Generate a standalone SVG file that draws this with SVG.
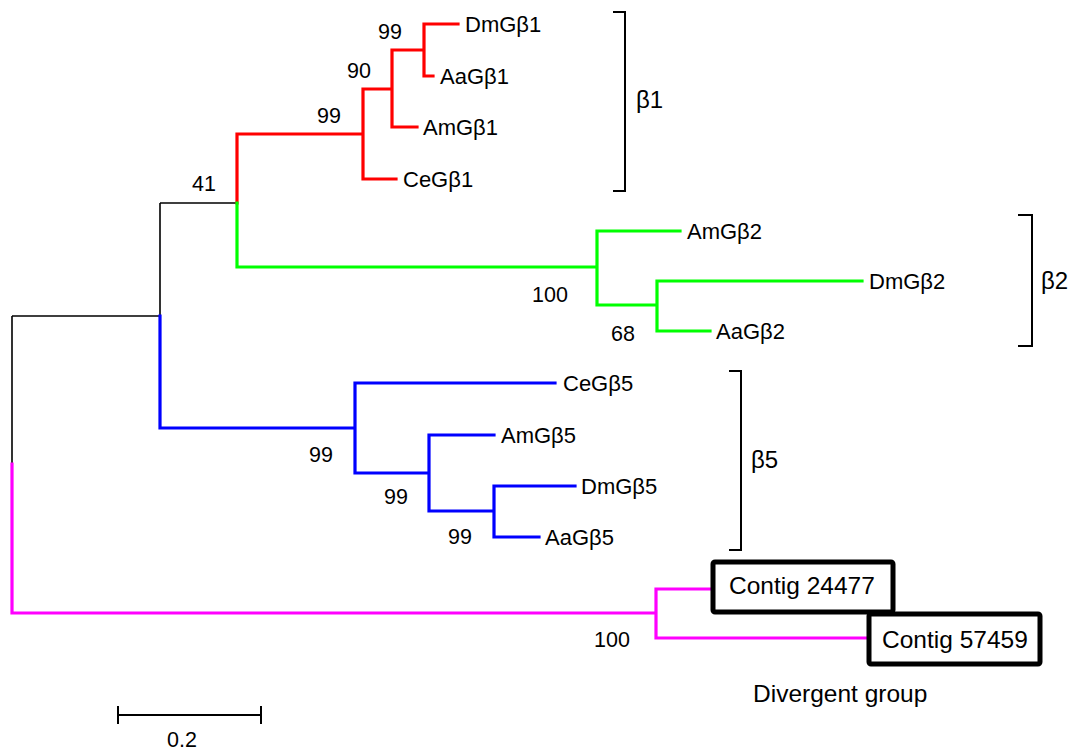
<svg xmlns="http://www.w3.org/2000/svg" width="1070" height="751" viewBox="0 0 1070 751">
<style>
.br{fill:none;stroke-width:3.2;stroke-linecap:square;stroke-linejoin:miter}
.red{stroke:#ff0000}.grn{stroke:#00ff00}.blu{stroke:#0000ff}.mag{stroke:#ff00ff}
.blk{fill:none;stroke:#000;stroke-width:1.6}
.brk{fill:none;stroke:#000;stroke-width:2}
.lab{font-family:"Liberation Sans",Arial,sans-serif;font-size:22px;fill:#000}
.grp{font-family:"Liberation Sans",Arial,sans-serif;font-size:24px;fill:#000}
.num{font-family:"Liberation Sans",Arial,sans-serif;font-size:21.5px;fill:#000}
.box{fill:#fff;stroke:#000;stroke-width:5}
.big{font-family:"Liberation Sans",Arial,sans-serif;font-size:24.5px;fill:#000}
</style>
<rect width="1070" height="751" fill="#fff"/>
<g id="connectors">
<path class="blk" d="M160,203 H237 M160,203 V316 M12,316 H160 M12,316 V464"/>
<path class="br red" d="M237,203 V134 H363 M363,89 V179 M363,89 H392 M363,179 H396 M392,50 V127 M392,50 H424 M392,127 H417 M424,24 V76 M424,24 H458 M424,76 H433"/>
<path class="br grn" d="M237,203 V267 H597 M597,231 V305 M597,231 H680 M597,305 H657 M657,281 V331 M657,281 H862 M657,331 H710"/>
<path class="br blu" d="M160,316 V428 H355 M355,383 V473 M355,383 H555 M355,473 H429 M429,435 V511 M429,435 H494 M429,511 H494 M494,486 V537 M494,486 H575 M494,537 H539"/>
<path class="br mag" d="M12,464 V613 H656 M656,589 V638 M656,589 H713 M656,638 H866"/>
</g>
<g id="n-DmGb1"><text class="lab" x="465" y="32">DmGβ1</text></g>
<g id="n-AaGb1"><text class="lab" x="440" y="84">AaGβ1</text></g>
<g id="n-AmGb1"><text class="lab" x="423" y="135">AmGβ1</text></g>
<g id="n-CeGb1"><text class="lab" x="403" y="187">CeGβ1</text></g>
<g id="n-AmGb2"><text class="lab" x="687" y="239">AmGβ2</text></g>
<g id="n-DmGb2"><text class="lab" x="869" y="289">DmGβ2</text></g>
<g id="n-AaGb2"><text class="lab" x="716" y="339">AaGβ2</text></g>
<g id="n-CeGb5"><text class="lab" x="563" y="391">CeGβ5</text></g>
<g id="n-AmGb5"><text class="lab" x="501" y="443">AmGβ5</text></g>
<g id="n-DmGb5"><text class="lab" x="581" y="494">DmGβ5</text></g>
<g id="n-AaGb5"><text class="lab" x="545" y="545">AaGβ5</text></g>
<g id="support">
<text class="num" x="378" y="39">99</text>
<text class="num" x="347" y="78">90</text>
<text class="num" x="317" y="123">99</text>
<text class="num" x="192" y="191">41</text>
<text class="num" x="532" y="302">100</text>
<text class="num" x="611" y="341">68</text>
<text class="num" x="309" y="462">99</text>
<text class="num" x="384" y="504">99</text>
<text class="num" x="448" y="544">99</text>
<text class="num" x="594" y="647">100</text>
</g>
<g id="n-contig24477"><rect class="box" x="713" y="562" width="180" height="50" rx="2"/><text class="big" x="729" y="594">Contig 24477</text></g>
<g id="n-contig57459"><rect class="box" x="869" y="614" width="171" height="50" rx="2"/><text class="big" x="882" y="648">Contig 57459</text></g>
<g id="brackets">
<path class="brk" d="M613,12 H625 V191 H613"/>
<text class="grp" x="636" y="108">β1</text>
<path class="brk" d="M1018,215 H1032 V346 H1018"/>
<text class="grp" x="1041" y="289">β2</text>
<path class="brk" d="M729,371 H741 V550 H729"/>
<text class="grp" x="751" y="468">β5</text>
<text class="big" x="753" y="702">Divergent group</text>
</g>
<g id="scale">
<path class="brk" d="M118,715 H261 M118,706 V724 M261,706 V724"/>
<text class="num" x="167" y="747">0.2</text>
</g>
</svg>
